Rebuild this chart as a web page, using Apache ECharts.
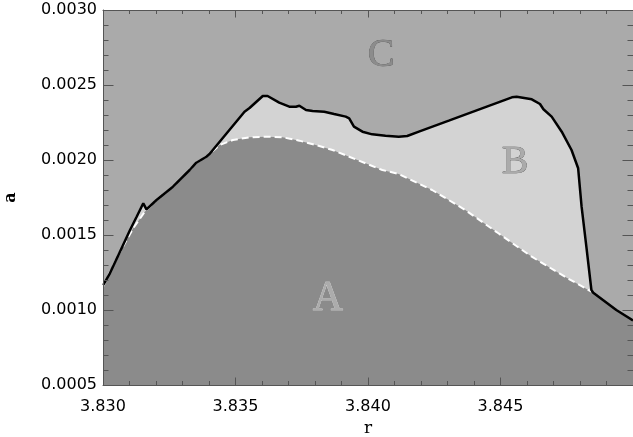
<!DOCTYPE html>
<html>
<head>
<meta charset="utf-8">
<script src="https://cdn.jsdelivr.net/npm/echarts@6/dist/echarts.min.js"></script>
<style>html,body{margin:0;padding:0;background:#fff}#c{width:633px;height:437px}</style>
</head>
<body>
<div id="c"></div>
<script>
// Upper boundary (solid black curve)
const rUpper = [3.83001,3.83026,3.83064,3.83102,3.83127,3.83152,3.83164,3.83202,3.83264,3.83327,3.83352,3.83390,3.83402,3.83534,3.83553,3.83603,3.83621,3.83665,3.83703,3.83728,3.83741,3.83766,3.83791,3.83835,3.83872,3.83916,3.83929,3.83947,3.83979,3.84016,3.84066,3.84116,3.84148,3.84192,3.84305,3.84543,3.84561,3.84618,3.84649,3.84662,3.84693,3.84731,3.84768,3.84793,3.84806,3.84824,3.84843,3.84850,3.84937,3.85000];
const aUpper = [0.0011667,0.0012447,0.0013887,0.0015333,0.0016220,0.0017113,0.0016713,0.0017333,0.0018220,0.0019333,0.0019820,0.0020220,0.0020400,0.0023220,0.0023467,0.0024267,0.0024267,0.0023820,0.0023553,0.0023553,0.0023620,0.0023333,0.0023267,0.0023220,0.0023067,0.0022890,0.0022780,0.0022220,0.0021887,0.0021710,0.0021620,0.0021553,0.0021600,0.0021887,0.0022620,0.0024180,0.0024220,0.0024047,0.0023733,0.0023380,0.0022890,0.0021887,0.0020667,0.0019447,0.0016890,0.0014220,0.0011333,0.0011153,0.0010000,0.0009300];
// Lower boundary (white dashed curve)
const rLower = [3.83001,3.83058,3.83114,3.83158,3.83202,3.83264,3.83327,3.83352,3.83390,3.83402,3.83440,3.83490,3.83553,3.83615,3.83678,3.83741,3.83803,3.83866,3.83929,3.83991,3.84054,3.84116,3.84242,3.84367,3.84492,3.84618,3.84743,3.84843];
const aLower = [0.0011600,0.0013667,0.0015447,0.0016553,0.0017333,0.0018220,0.0019333,0.0019820,0.0020220,0.0020400,0.0021000,0.0021333,0.0021513,0.0021553,0.0021513,0.0021290,0.0021000,0.0020667,0.0020220,0.0019780,0.0019333,0.0019067,0.0018000,0.0016667,0.0015113,0.0013553,0.0012220,0.0011220];
// Tick labels
const xTickLabels = ['3.830','3.835','3.840','3.845'];
const yTickLabels = ['0.0005','0.0010','0.0015','0.0020','0.0025','0.0030'];
// Region labels
const regionNames = ['A','B','C'];

const upper = rUpper.map((r,i)=>[r,aUpper[i]]);
const lower = rLower.map((r,i)=>[r,aLower[i]]);
const lastLowerR = rLower[rLower.length-1];
const regionA = lower.concat(upper.filter(p=>p[0]>lastLowerR));

const fmt = (labels)=> (v)=>{
  let best='', bd=Infinity;
  labels.forEach(l=>{const d=Math.abs(parseFloat(l)-v); if(d<bd){bd=d;best=l;}});
  return bd<1e-7 ? best : '';
};

const axisCol = '#555';
const font = 'DejaVu Sans';
const chart = echarts.init(document.getElementById('c'));
const xCommon = {type:'value', min:3.830, max:3.850, interval:0.005, z:10,
  splitLine:{show:false}, minorSplitLine:{show:false},
  axisLine:{show:true, lineStyle:{color:axisCol, width:1}},
  minorTick:{show:true, splitNumber:5, length:4, lineStyle:{color:axisCol}},
  axisTick:{show:true, inside:true, length:7.5, lineStyle:{color:axisCol}}};
const yCommon = {type:'value', min:0.0005, max:0.0030, interval:0.0005, z:10,
  splitLine:{show:false}, minorSplitLine:{show:false},
  axisLine:{show:true, lineStyle:{color:axisCol, width:1}},
  minorTick:{show:true, splitNumber:5, length:5.5, lineStyle:{color:axisCol}},
  axisTick:{show:true, inside:true, length:10.5, lineStyle:{color:axisCol}}};
chart.setOption({
  animation:false,
  grid:{left:103, top:10, width:530, height:375, show:true, backgroundColor:'#aaaaaa', borderWidth:0, containLabel:false, outerBoundsMode:'none'},
  xAxis:[
    Object.assign({}, xCommon, {position:'bottom',
      axisLabel:{show:true, formatter:fmt(xTickLabels), showMaxLabel:false, margin:14, color:'#000', fontFamily:font, fontSize:16},
      name:'r', nameLocation:'middle', nameGap:34,
      nameTextStyle:{fontFamily:'DejaVu Serif', fontSize:17, color:'#000'}}),
    Object.assign({}, xCommon, {position:'top', axisLabel:{show:false}})
  ],
  yAxis:[
    Object.assign({}, yCommon, {position:'left',
      axisLabel:{show:true, formatter:fmt(yTickLabels), margin:6, color:'#000', fontFamily:font, fontSize:16},
      name:'a', nameLocation:'middle', nameGap:84, nameRotate:90,
      nameTextStyle:{fontFamily:'DejaVu Serif', fontWeight:'bold', fontSize:16, color:'#000'}}),
    Object.assign({}, yCommon, {position:'right', axisLabel:{show:false}})
  ],
  series:[
    {type:'line', data:upper, showSymbol:false, lineStyle:{width:0}, areaStyle:{color:'#d3d3d3', opacity:1, origin:'start'}, z:1, silent:true},
    {type:'line', data:regionA, showSymbol:false, lineStyle:{width:0}, areaStyle:{color:'#8b8b8b', opacity:1, origin:'start'}, z:2, silent:true},
    {type:'line', data:lower, showSymbol:false, lineStyle:{width:2, color:'#ffffff', type:[7,4]}, z:3, silent:true},
    {type:'line', data:upper, showSymbol:false, lineStyle:{width:2.5, color:'#000000'}, z:4, silent:true}
  ],
  graphic:[
    {type:'text', x:381, y:55, z:10, style:{text:regionNames[2], font:'40px "Liberation Serif"', fill:'#8c8c8c', stroke:'#3a3a3a', lineWidth:0.5, align:'center', verticalAlign:'middle'}},
    {type:'text', x:515, y:162, z:10, style:{text:regionNames[1], font:'40px "Liberation Serif"', fill:'#ababab', stroke:'#444', lineWidth:0.5, align:'center', verticalAlign:'middle'}},
    {type:'text', x:328, y:299, z:10, style:{text:regionNames[0], font:'42px "Liberation Serif"', fill:'#acacac', stroke:'#e6e6e6', lineWidth:0.5, align:'center', verticalAlign:'middle'}}
  ]
});
</script>
</body>
</html>
